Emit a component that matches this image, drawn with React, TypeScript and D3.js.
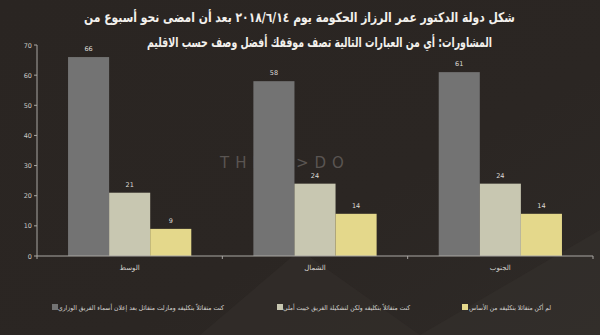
import React from "react";
import * as d3 from "d3";

const regions = ["الوسط", "الشمال", "الجنوب"];
const seriesNames = [
  "كنت متفائلاً بتكليفه ومازلت متفائل بعد إعلان أسماء الفريق الوزاري",
  "كنت متفائلاً بتكليفه ولكن لتشكيلة الفريق خيبت أملي",
  "لم أكن متفائلا بتكليفه من الأساس",
];
const stillOptimistic = [66, 58, 61];
const disappointed = [21, 24, 24];
const neverOptimistic = [9, 14, 14];
const yTicks = [0, 10, 20, 30, 40, 50, 60, 70];
const titleLines = [
  "شكل دولة الدكتور عمر الرزاز الحكومة يوم ٢٠١٨/٦/١٤ بعد أن امضى نحو أسبوع من",
  "المشاورات: أي من العبارات التالية تصف موقفك أفضل  وصف حسب الاقليم",
];

const colors = ["#737373", "#c8c7b1", "#e4d88b"];
const W = 600;
const H = 335;
const FONT = "'DejaVu Sans', sans-serif";

export default function App() {
  const series = [stillOptimistic, disappointed, neverOptimistic];
  const x = d3.scaleBand<string>().domain(regions).range([37, 593]).paddingInner(0.335).paddingOuter(0.1675);
  const x1 = d3.scaleBand<number>().domain([0, 1, 2]).range([0, x.bandwidth()]);
  const y = d3.scaleLinear().domain([0, 70]).range([256, 45]);
  const boundaries = [37, ...regions.map((r) => (x(r) as number) + x.bandwidth() + (x.step() - x.bandwidth()) / 2)];

  const titlePos = [
    { right: 515, width: 431, y: 22 },
    { right: 492, width: 345, y: 47 },
  ];
  const legendPos = [
    { sx: 52, tx: 224, w: 166 },
    { sx: 277, tx: 410, w: 127 },
    { sx: 462, tx: 551, w: 82 },
  ];

  return (
    <svg width={W} height={H} style={{ position: "absolute", left: 0, top: 0, display: "block" }}>
      <defs>
        <linearGradient id="bg" x1="0" y1="0" x2="1" y2="1">
          <stop offset="0" stopColor="#2a2522" />
          <stop offset="0.6" stopColor="#2b2623" />
          <stop offset="1" stopColor="#2e2a27" />
        </linearGradient>
      </defs>
      <rect x={0} y={0} width={W} height={H} fill="url(#bg)" />
      <polygon points="200,335 300,250 420,335" fill="#332e2b" opacity={0.6} />
      <polygon points="420,335 600,230 600,335" fill="#36322e" opacity={0.5} />
      <text x={285} y={168} textAnchor="middle" fontFamily={FONT} fontSize={15} fill="#5a5552" letterSpacing={6}>
        THINK&gt;DO
      </text>

      {titleLines.map((t, i) => (
        <text
          key={i}
          x={titlePos[i].right}
          y={titlePos[i].y}
          textAnchor="start"
          direction="rtl"
          fontFamily={FONT}
          fontWeight="bold"
          fontSize={13.5}
          textLength={titlePos[i].width}
          lengthAdjust="spacingAndGlyphs"
          fill="#f2f0ec"
        >
          {t}
        </text>
      ))}

      {/* y axis */}
      <line x1={37} x2={37} y1={y(70)} y2={y(0)} stroke="#a9a7a3" strokeWidth={1} />
      {yTicks.map((t) => (
        <g key={t}>
          <line x1={34} x2={37} y1={y(t)} y2={y(t)} stroke="#a9a7a3" />
          <text x={32} y={y(t) + 2.5} textAnchor="end" fontFamily={FONT} fontSize={6.5} fill="#c9c7c3">
            {t}
          </text>
        </g>
      ))}

      {/* bars */}
      {regions.map((r, i) => (
        <g key={r}>
          {series.map((s, j) => {
            const bx = (x(r) as number) + (x1(j) as number);
            return (
              <g key={j}>
                <rect x={bx} y={y(s[i])} width={x1.bandwidth()} height={y(0) - y(s[i])} fill={colors[j]} />
                <text
                  x={bx + x1.bandwidth() / 2}
                  y={y(s[i]) - 6}
                  textAnchor="middle"
                  fontFamily={FONT}
                  fontSize={6.5}
                  fill="#dedcd8"
                >
                  {s[i]}
                </text>
              </g>
            );
          })}
          <text
            x={(x(r) as number) + x.bandwidth() / 2}
            y={270}
            textAnchor="middle"
            direction="rtl"
            fontFamily={FONT}
            fontSize={7}
            fill="#d4d2ce"
          >
            {r}
          </text>
        </g>
      ))}

      {/* x axis */}
      <line x1={37} x2={593} y1={y(0)} y2={y(0)} stroke="#a9a7a3" strokeWidth={1.2} />
      {boundaries.map((b, i) => (
        <line key={i} x1={b} x2={b} y1={y(0)} y2={y(0) + 3} stroke="#a9a7a3" />
      ))}

      {/* legend */}
      {seriesNames.map((n, i) => (
        <g key={i}>
          <rect x={legendPos[i].sx} y={304} width={6} height={6} fill={colors[i]} />
          <text
            x={legendPos[i].tx}
            y={310}
            textAnchor="start"
            direction="rtl"
            fontFamily={FONT}
            fontSize={6.5}
            textLength={legendPos[i].w}
            lengthAdjust="spacingAndGlyphs"
            fill="#d4d2ce"
          >
            {n}
          </text>
        </g>
      ))}
    </svg>
  );
}
